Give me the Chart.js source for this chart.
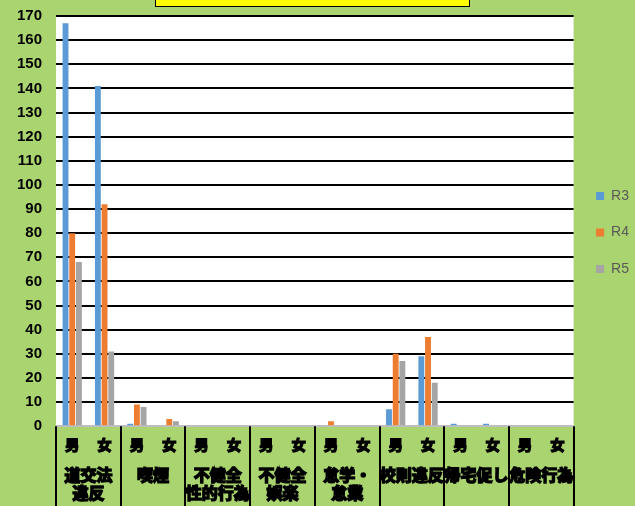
<!DOCTYPE html>
<html>
<head>
<meta charset="utf-8">
<script src="https://cdn.jsdelivr.net/npm/chart.js@4/dist/chart.umd.min.js"></script>
<style>
  html, body { margin: 0; padding: 0; background: #a9d46f; }
  #wrap { position: relative; width: 635px; height: 506px; }
  #titleBox {
    position: absolute; left: 155px; top: -2px; width: 313px; height: 7px;
    background: #ffff00; border: 1px solid #000; z-index: 2;
  }
</style>
</head>
<body>
<div id="wrap">
  <div id="titleBox"></div>
  <canvas id="chart" width="635" height="506"></canvas>
</div>
<script>
// --- DATA ---
const sexLabels = ["男", "女", "男", "女", "男", "女", "男", "女", "男", "女", "男", "女", "男", "女", "男", "女"];
const groupLabels = [
  ["道交法", "違反"],
  ["喫煙"],
  ["不健全", "性的行為"],
  ["不健全", "娯楽"],
  ["怠学・", "怠業"],
  ["校則違反"],
  ["帰宅促し"],
  ["危険行為"],
];
const r3Values = [167, 141, 1, 0, 0, 0, 0, 0, 0, 0, 7, 29, 1, 1, 0, 0];
const r4Values = [80, 92, 9, 3, 0, 0, 0, 0, 2, 0, 30, 37, 0, 0, 0, 0];
const r5Values = [68, 31, 8, 2, 0, 0, 0, 0, 0, 0, 27, 18, 0, 0, 0, 0];
const yMax = 170;
const yStep = 10;

const GREEN = "#a9d46f";
const jpFont = "'Noto Sans CJK JP', 'Noto Sans', sans-serif";

// paints the green background and the white plot area
const backgroundPlugin = {
  id: "backgroundPlugin",
  beforeDraw(chart) {
    const { ctx, chartArea } = chart;
    ctx.save();
    ctx.fillStyle = GREEN;
    ctx.fillRect(0, 0, chart.width, chart.height);
    ctx.fillStyle = "#ffffff";
    ctx.fillRect(chartArea.left, chartArea.top, chartArea.right - chartArea.left, chartArea.bottom - chartArea.top);
    ctx.restore();
  },
};

// vertical separators between the groups, below the plot
const groupDividers = {
  id: "groupDividers",
  afterDraw(chart) {
    const { ctx, chartArea } = chart;
    const scale = chart.scales.x2;
    const step = scale.getPixelForValue(1) - scale.getPixelForValue(0);
    ctx.save();
    ctx.strokeStyle = "#000000";
    ctx.lineWidth = 2;
    for (let i = 0; i <= groupLabels.length; i++) {
      const x = Math.round(scale.getPixelForValue(0) - step / 2 + i * step);
      ctx.beginPath();
      ctx.moveTo(x, chartArea.bottom);
      ctx.lineTo(x, chart.height);
      ctx.stroke();
    }
    ctx.restore();
  },
};

new Chart(document.getElementById("chart"), {
  type: "bar",
  data: {
    labels: sexLabels,
    datasets: [
      { label: "R3", data: r3Values, backgroundColor: "#5b9bd5" },
      { label: "R4", data: r4Values, backgroundColor: "#ed7d31" },
      { label: "R5", data: r5Values, backgroundColor: "#a5a5a5" },
    ],
  },
  options: {
    responsive: false,
    animation: false,
    datasets: { bar: { categoryPercentage: 0.62, barPercentage: 0.88 } },
    layout: { padding: { top: 4, bottom: 1, left: 10, right: -4 } },
    scales: {
      x: {
        grid: { display: false, drawTicks: false },
        border: { display: false },
        ticks: {
          color: "#000",
          textStrokeColor: "#000",
          textStrokeWidth: 1.4,
          font: { family: jpFont, size: 14, weight: "bold" },
          padding: 10,
          autoSkip: false,
          maxRotation: 0,
        },
      },
      x2: {
        type: "category",
        labels: groupLabels,
        position: "bottom",
        offset: true,
        weight: 1,
        grid: { display: false, drawTicks: false },
        border: { display: false },
        ticks: {
          color: "#000",
          textStrokeColor: "#000",
          textStrokeWidth: 1.5,
          font: { family: jpFont, size: 16, weight: "bold", lineHeight: 1.125 },
          padding: 3,
          autoSkip: false,
          maxRotation: 0,
        },
      },
      y: {
        min: 0,
        max: yMax,
        border: { display: false },
        grid: {
          drawTicks: true,
          tickLength: 7,
          tickColor: "rgba(0,0,0,0)",
          lineWidth: 2,
          color: (ctx) => (ctx.tick && ctx.tick.value === 0 ? "#bfbfbf" : "#000000"),
        },
        ticks: {
          stepSize: yStep,
          color: "#000",
          padding: 7,
          font: { family: "'Liberation Sans', Arial, sans-serif", size: 15, weight: "bold" },
        },
      },
    },
    plugins: {
      legend: {
        position: "right",
        fullSize: false,
        title: { display: true, text: "", padding: { top: 11, bottom: 0 }, font: { size: 10, lineHeight: 1.2 } },
        labels: {
          boxWidth: 8,
          boxHeight: 8,
          padding: 22.5,
          color: "#595959",
          font: { family: "'Liberation Sans', Arial, sans-serif", size: 14 },
        },
      },
      tooltip: { enabled: false },
    },
  },
  plugins: [backgroundPlugin, groupDividers],
});
</script>
</body>
</html>
